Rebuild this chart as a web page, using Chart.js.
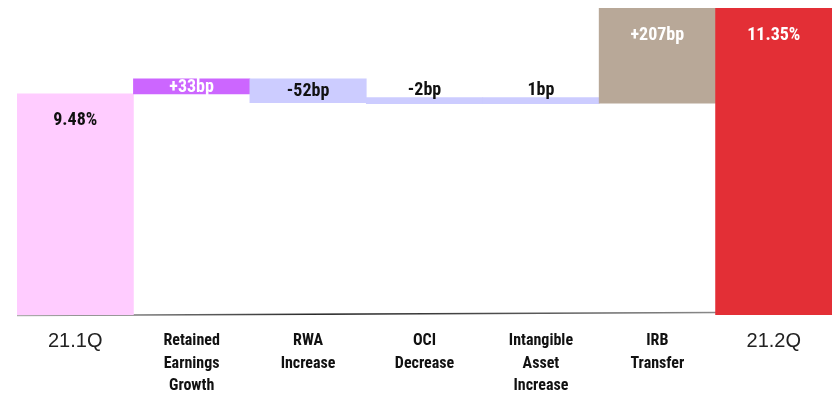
<!DOCTYPE html>
<html>
<head>
<meta charset="utf-8">
<title>CET1 ratio bridge</title>
<script src="https://cdn.jsdelivr.net/npm/chart.js@4/dist/chart.umd.min.js"></script>
<style>
  html, body { margin: 0; padding: 0; background: #fff; }
  canvas { display: block; }
</style>
</head>
<body>
<canvas id="bridge" width="837" height="394"></canvas>
<script>
// ratio at the start and end of the quarter (%)
var startRatio = 9.48;
var endRatio = 11.35;

// movements between the two quarters (bp) and how they are printed
var stepNames = [['Retained', 'Earnings', 'Growth'], ['RWA', 'Increase'], ['OCI', 'Decrease'], ['Intangible', 'Asset', 'Increase'], ['IRB', 'Transfer']];
var stepsBp = [33, -52, -2, 1, 207];
var stepText = ['+33bp', '-52bp', '-2bp', '1bp', '+207bp'];

var categories = [['21.1Q']].concat(stepNames, [['21.2Q']]);
var barColors = ['#ffccff', '#cc66ff', '#ccccff', '#ccccff', '#ccccff', '#b8a898', '#e32f36'];
var labelColors = ['#111', '#fff', '#111', '#111', '#111', '#fff', '#fff'];

var narrow = '"Roboto Condensed", "Open Sans Condensed", "Liberation Sans Narrow", sans-serif';

var axisMin = 4.67;
var axisMax = 11.35;

// floating bars: totals sit on the axis floor, steps run from the running level
var ranges = [[axisMin, startRatio]];
var level = startRatio;
stepsBp.forEach(function (bp) {
  var next = Math.round((level + bp / 100) * 10000) / 10000;
  ranges.push([level, next]);
  level = next;
});
ranges.push([axisMin, endRatio]);

var valueText = [startRatio.toFixed(2) + '%'].concat(stepText, [endRatio.toFixed(2) + '%']);

var baseLine = {
  id: 'baseLine',
  beforeDatasetsDraw: function (chart) {
    var ctx = chart.ctx;
    var area = chart.chartArea;
    var lastBar = chart.getDatasetMeta(0).data[6];
    var x2 = lastBar.x - lastBar.width / 2 + 2;
    var g = ctx.createLinearGradient(area.left, 0, x2, 0);
    g.addColorStop(0, '#b0b0b0');
    g.addColorStop(0.45, '#222');
    g.addColorStop(1, '#8a8a8a');
    ctx.save();
    ctx.strokeStyle = g;
    ctx.lineWidth = 1.5;
    ctx.beginPath();
    ctx.moveTo(area.left, area.bottom + 0.5);
    ctx.lineTo(x2, area.bottom - 2.5);
    ctx.stroke();
    ctx.restore();
  }
};

var valueLabels = {
  id: 'valueLabels',
  afterDatasetsDraw: function (chart) {
    var ctx = chart.ctx;
    var meta = chart.getDatasetMeta(0);
    ctx.save();
    ctx.font = 'bold 18px ' + narrow;
    ctx.textAlign = 'center';
    meta.data.forEach(function (bar, i) {
      var top = Math.min(bar.y, bar.base);
      var h = Math.abs(bar.base - bar.y);
      var y;
      ctx.fillStyle = labelColors[i];
      if (h > 60) {
        ctx.textBaseline = 'middle';
        y = top + 27;
      } else if (h > 12) {
        ctx.textBaseline = 'middle';
        y = top + h / 2 + 1;
      } else {
        ctx.textBaseline = 'alphabetic';
        ctx.fillStyle = '#111';
        y = top - 3;
      }
      ctx.fillText(valueText[i], bar.x, y);
    });
    ctx.restore();
  }
};

new Chart(document.getElementById('bridge').getContext('2d'), {
  type: 'bar',
  data: {
    labels: categories,
    datasets: [{
      data: ranges,
      backgroundColor: barColors,
      borderWidth: 0,
      categoryPercentage: 1,
      barPercentage: 1,
      minBarLength: 6
    }]
  },
  options: {
    responsive: false,
    animation: false,
    devicePixelRatio: 1,
    layout: { padding: { left: 17, right: 5, top: 8, bottom: 0 } },
    plugins: {
      legend: { display: false },
      tooltip: { enabled: false }
    },
    scales: {
      x: {
        grid: { display: false, drawTicks: false },
        border: { display: false },
        afterFit: function (s) { s.height = 79; },
        ticks: {
          padding: 15,
          maxRotation: 0,
          autoSkip: false,
          color: function (c) { return (c.index === 0 || c.index === 6) ? '#222' : '#111'; },
          font: function (c) {
            if (c.index === 0 || c.index === 6) {
              return { family: '"Liberation Sans", Arial, sans-serif', size: 20, weight: 'normal', lineHeight: 1.125 };
            }
            return { family: narrow, size: 16, weight: 'bold', lineHeight: 1.4 };
          }
        }
      },
      y: {
        display: false,
        min: axisMin,
        max: axisMax
      }
    }
  },
  plugins: [baseLine, valueLabels]
});
</script>
</body>
</html>
